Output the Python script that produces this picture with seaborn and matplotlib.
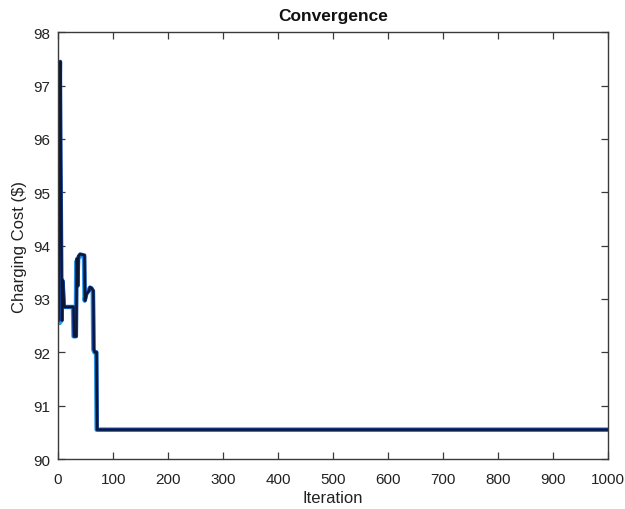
import matplotlib
matplotlib.use("Agg")
import matplotlib.pyplot as plt
import seaborn as sns
import pandas as pd

# Charging cost per iteration (vertices of the step-like trace)
iter_main = [1, 4, 4, 7, 8, 9, 11, 12, 28, 29, 33, 34, 36, 37, 40, 48, 49, 52, 56, 58, 61, 64, 65, 67, 70, 71, 1000]
cost_main = [92.6, 97.45, 97.2, 92.6, 93.35, 93.3, 92.85, 92.85, 92.85, 92.3, 92.3, 93.75, 93.25, 93.8, 93.84, 93.82, 92.97, 93.1, 93.15, 93.22, 93.2, 93.15, 92.05, 92.0, 92.0, 90.55, 90.55]

iter_alt = [0, 2, 3, 6, 7, 8, 10, 11, 27, 28, 32, 33, 35, 36, 39, 47, 48, 51, 55, 57, 60, 63, 64, 66, 69, 70, 1000]
cost_alt = [96.9, 96.9, 92.55, 92.6, 93.35, 93.3, 92.85, 92.85, 92.85, 92.3, 92.3, 93.7, 93.25, 93.75, 93.8, 93.8, 92.97, 93.1, 93.15, 93.2, 93.2, 93.15, 92.05, 92.0, 92.0, 90.55, 90.55]

x_ticks = [0, 100, 200, 300, 400, 500, 600, 700, 800, 900, 1000]
y_ticks = [90, 91, 92, 93, 94, 95, 96, 97, 98]

sns.set_theme(style="white")
plt.rcParams["font.family"] = ["Liberation Sans", "DejaVu Sans"]

fig = plt.figure(figsize=(6.25, 5.1), dpi=100)
ax = fig.add_axes([0.093, 0.098, 0.88, 0.837])

df_alt = pd.DataFrame({"Iteration": iter_alt, "Cost": cost_alt})
df_main = pd.DataFrame({"Iteration": iter_main, "Cost": cost_main})

sns.lineplot(data=df_alt, x="Iteration", y="Cost", ax=ax, sort=False,
             color="#2d9be8", linewidth=3.2, estimator=None)
sns.lineplot(data=df_main, x="Iteration", y="Cost", ax=ax, sort=False,
             color="#1546b0", linewidth=2.6, estimator=None)
sns.lineplot(data=df_main, x="Iteration", y="Cost", ax=ax, sort=False,
             color="#0b1733", linewidth=1.6, estimator=None)

ax.set_xlim(0, 1000)
ax.set_ylim(90, 98)
ax.set_xticks(x_ticks)
ax.set_yticks(y_ticks)
ax.set_xticklabels([str(t) for t in x_ticks], fontsize=11, color="#222222")
ax.set_yticklabels([str(t) for t in y_ticks], fontsize=11, color="#222222")

for side in ["top", "right", "bottom", "left"]:
    ax.spines[side].set_visible(True)
    ax.spines[side].set_color("#3a3a3a")
    ax.spines[side].set_linewidth(1.0)

ax.tick_params(axis="both", which="both", direction="in", length=5, width=0.9,
               color="#3a3a3a", top=True, right=True, bottom=True, left=True, pad=6)
ax.tick_params(axis="x", pad=9)

ax.set_xlabel("Iteration", fontsize=12, color="#222222", labelpad=3)
ax.set_ylabel("Charging Cost ($)", fontsize=12, color="#222222", labelpad=4)
ax.set_title("Convergence", fontsize=12.5, fontweight="bold", color="#111111", pad=9)

fig.savefig("out.png", dpi=100)
